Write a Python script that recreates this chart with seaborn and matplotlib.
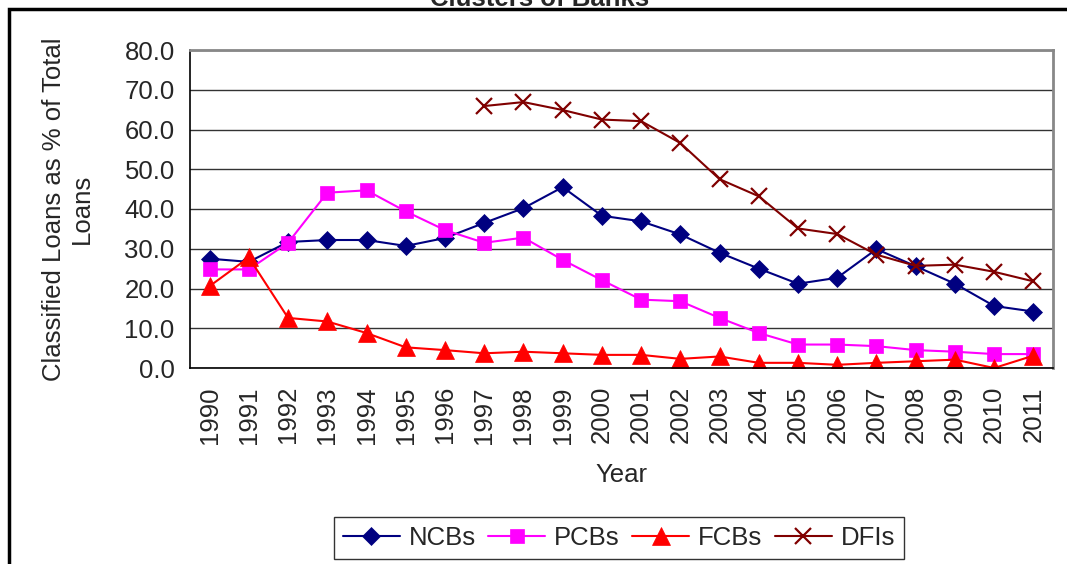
import numpy as np
import pandas as pd
import matplotlib.pyplot as plt
import matplotlib.patches as mpatches
from matplotlib.ticker import FixedLocator, NullFormatter
import seaborn as sns

years = [str(y) for y in range(1990, 2012)]
ncbs = [27.5, 26.7, 31.7, 32.2, 32.2, 30.7, 32.7, 36.5, 40.2, 45.5, 38.3, 36.9,
        33.6, 29.0, 25.0, 21.2, 22.7, 29.9, 25.6, 21.2, 15.6, 14.2]
pcbs = [24.8, 24.8, 31.5, 44.1, 44.7, 39.4, 34.7, 31.5, 32.8, 27.2, 22.1, 17.2,
        16.8, 12.6, 8.8, 5.9, 5.9, 5.5, 4.5, 4.1, 3.5, 3.5]
fcbs = [20.6, 27.8, 12.6, 11.7, 8.8, 5.2, 4.5, 3.7, 4.1, 3.7, 3.3, 3.3,
        2.3, 2.9, 1.3, 1.3, 0.8, 1.3, 1.7, 2.1, 0.0, 3.1]
dfis = [np.nan] * 7 + [65.9, 66.9, 64.9, 62.5, 62.1, 56.6, 47.5, 43.2, 35.1,
                       33.7, 28.5, 25.7, 26.0, 24.2, 21.8]

series = {'NCBs': ncbs, 'PCBs': pcbs, 'FCBs': fcbs, 'DFIs': dfis}
styles = {
    'NCBs': dict(color='#000080', marker='D', markersize=9.5),
    'PCBs': dict(color='#FF00FF', marker='s', markersize=10),
    'FCBs': dict(color='#FF0000', marker='^', markersize=12.5),
    'DFIs': dict(color='#800000', marker='x', markersize=11, markeredgewidth=1.6),
}

sns.set_style('white')
plt.rcParams['font.family'] = ['Liberation Sans', 'DejaVu Sans']
FS = 18.5

fig = plt.figure(figsize=(10.67, 5.64), dpi=100)
ax = fig.add_axes([190 / 1067, 1 - 368 / 564, (1053 - 190) / 1067, (368 - 50) / 564])

idx = np.arange(len(years))
for name, vals in series.items():
    st = styles[name]
    sns.lineplot(x=idx, y=vals, ax=ax, label=name, color=st['color'], marker=st['marker'],
                 markersize=st['markersize'], markeredgewidth=st.get('markeredgewidth', 0.5),
                 markeredgecolor=st['color'], linewidth=1.5, legend=False)

ax.set_xlim(-0.5, len(years) - 0.5)
ax.set_ylim(0, 80)
ax.set_yticks(np.arange(0, 81, 10))
ax.set_yticklabels([f'{v:.1f}' for v in range(0, 81, 10)], fontsize=FS)
ax.yaxis.grid(True, color='#333333', linewidth=1)
ax.set_axisbelow(True)

ax.xaxis.set_major_locator(FixedLocator(np.arange(-0.5, len(years), 1.0)))
ax.xaxis.set_major_formatter(NullFormatter())
ax.xaxis.set_minor_locator(FixedLocator(idx))
ax.set_xticklabels(years, minor=True, rotation=90, fontsize=FS)
ax.tick_params(axis='x', which='major', direction='out', length=7, width=1, color='black')
ax.tick_params(axis='x', which='minor', length=0, pad=13)
ax.tick_params(axis='y', direction='inout', length=10, width=1, color='black', pad=6)

for side in ['left', 'bottom']:
    ax.spines[side].set_color('black')
    ax.spines[side].set_linewidth(1.2)
for side in ['top', 'right']:
    ax.spines[side].set_color('#888888')
    ax.spines[side].set_linewidth(2)

ax.set_xlabel('Year', fontsize=FS, labelpad=14)
ax.set_ylabel('Classified Loans as % of Total\nLoans', fontsize=FS, labelpad=22)

handles, labels = ax.get_legend_handles_labels()
leg = fig.legend(handles, labels, loc='center', bbox_to_anchor=(619 / 1067, 1 - 538 / 564),
                 ncol=4, fontsize=FS, frameon=True, fancybox=False, edgecolor='black',
                 handlelength=2.2, handletextpad=0.35, columnspacing=0.5, borderpad=0.35,
                 borderaxespad=0)
leg.get_frame().set_linewidth(1)

border = mpatches.Rectangle((9 / 1067, -0.1), 1.2, 1.1 - 9 / 564, transform=fig.transFigure,
                            fill=False, edgecolor='black', linewidth=2.5, clip_on=False)
fig.patches.append(border)
fig.text(540 / 1067, 1 - 6 / 564, 'Clusters of Banks', ha='center', va='baseline',
         fontsize=FS, fontweight='bold')

plt.savefig('out.png', dpi=100)
